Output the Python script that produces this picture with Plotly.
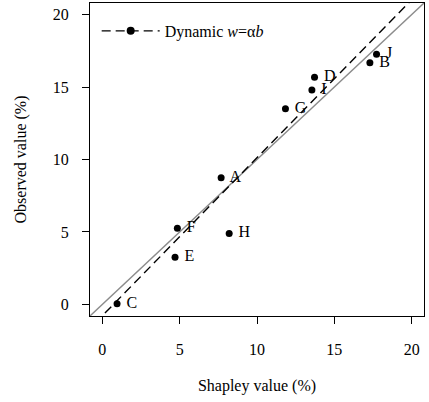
import plotly.graph_objects as go

labels = ["A", "B", "C", "D", "E", "F", "G", "H", "J", "I"]
shapley = [7.68, 17.3, 0.95, 13.72, 4.7, 4.85, 11.84, 8.2, 17.73, 13.55]
observed = [8.74, 16.67, 0.05, 15.68, 3.26, 5.26, 13.5, 4.9, 17.26, 14.8]

fit_intercept = -0.78
fit_slope = 1.09
line_x = [-3, 24]

tick_vals = [0, 5, 10, 15, 20]
font_family = "Liberation Serif"
fs = 16

fig = go.Figure()

# identity line
fig.add_trace(go.Scatter(
    x=line_x, y=line_x, mode="lines",
    line=dict(color="#8c8c8c", width=1.4),
    showlegend=False, hoverinfo="skip"))

# fitted dashed line (with marker for legend; endpoints clipped)
fig.add_trace(go.Scatter(
    x=line_x, y=[fit_intercept + fit_slope * v for v in line_x],
    mode="lines+markers",
    line=dict(color="black", width=1.4, dash="9px,5px"),
    marker=dict(color="black", size=8),
    name="Dynamic <i>w</i>=α<i>b</i>",
    showlegend=True, cliponaxis=True))

# data points
fig.add_trace(go.Scatter(
    x=shapley, y=observed, mode="markers+text",
    text=[" " + t for t in labels], textposition="middle right",
    textfont=dict(family=font_family, size=fs, color="black"),
    marker=dict(color="black", size=7),
    showlegend=False))

axis_common = dict(
    range=[-0.8, 20.8], tickvals=tick_vals,
    showgrid=False, zeroline=False,
    showline=True, linecolor="black", linewidth=1, mirror=True,
    ticks="outside", ticklen=7, tickwidth=1, tickcolor="black",
    tickfont=dict(family=font_family, size=fs, color="black"),
)

fig.update_layout(
    width=429, height=402,
    margin=dict(l=90, r=5, t=3, b=86),
    paper_bgcolor="white", plot_bgcolor="white",
    font=dict(family=font_family, size=fs, color="black"),
    xaxis=dict(**axis_common, ticklabelstandoff=12,
               title=dict(text="Shapley value (%)", standoff=22,
                          font=dict(family=font_family, size=fs))),
    yaxis=dict(**axis_common, ticklabelstandoff=10,
               title=dict(text="Observed value (%)", standoff=22,
                          font=dict(family=font_family, size=fs))),
    legend=dict(x=0.02, y=0.965, xanchor="left", yanchor="top",
                itemwidth=58,
                bgcolor="rgba(0,0,0,0)", borderwidth=0,
                font=dict(family=font_family, size=fs)),
)

fig.write_html("out.html")
